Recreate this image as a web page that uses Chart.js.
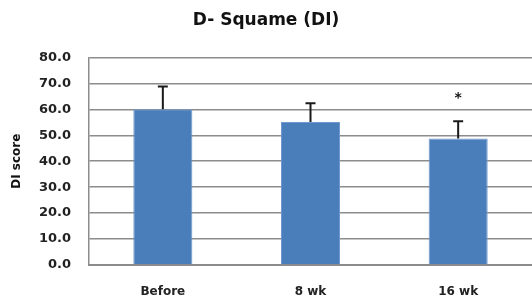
<!DOCTYPE html>
<html>
<head>
<meta charset="utf-8">
<script src="https://cdn.jsdelivr.net/npm/chart.js@4/dist/chart.umd.min.js"></script>
<style>
  html, body { margin: 0; padding: 0; background: #fff; overflow: hidden; }
  #wrap { width: 532px; height: 307px; }
</style>
</head>
<body>
<div id="wrap"><canvas id="chart"></canvas></div>
<script>
// data
const categories = ["Before", "8 wk", "16 wk"];
const means = [60.0, 55.1, 48.7];
const errors = [8.8, 7.2, 6.7];
const marks = ["", "", "*"];      // significance marks above error bars
const markAt = [null, null, 65.4];

const FONT = "'DejaVu Sans', sans-serif";

/* ---- error bars + asterisk ---- */
const errorBars = {
  id: "errorBars",
  afterDatasetsDraw(chart) {
    const { ctx, scales: { y } } = chart;
    const bars = chart.getDatasetMeta(0).data;
    ctx.save();
    ctx.strokeStyle = "#1a1a1a";
    ctx.lineWidth = 2;
    bars.forEach((bar, i) => {
      const top = y.getPixelForValue(means[i] + errors[i]);
      ctx.beginPath();
      ctx.moveTo(bar.x, bar.y);
      ctx.lineTo(bar.x, top);
      ctx.moveTo(bar.x - 5, top);
      ctx.lineTo(bar.x + 5, top);
      ctx.stroke();
      if (marks[i]) {
        ctx.fillStyle = "#111";
        ctx.font = "bold 14px " + FONT;
        ctx.textAlign = "center";
        ctx.textBaseline = "middle";
        ctx.fillText(marks[i], bar.x, y.getPixelForValue(markAt[i]) + 3);
      }
    });
    ctx.restore();
  }
};

new Chart(document.getElementById("chart"), {
  type: "bar",
  data: {
    labels: categories,
    datasets: [{
      data: means,
      backgroundColor: "#4a7ebb",
      borderColor: "#6f98cc",
      borderWidth: 1,
      barPercentage: 0.4,
      categoryPercentage: 1
    }]
  },
  options: {
    responsive: true,
    maintainAspectRatio: false,
    animation: false,
    layout: { padding: { left: 0, right: 0, top: 0, bottom: 6 } },
    plugins: {
      legend: { display: false },
      tooltip: { enabled: false },
      title: {
        display: true,
        text: "D- Squame (DI)",
        color: "#111",
        font: { family: FONT, size: 17, weight: "bold" },
        padding: { top: 10, bottom: 27 }
      }
    },
    scales: {
      x: {
        afterFit: s => { s.height = 36; },
        grid: { display: false, drawTicks: false },
        border: { color: "#8c8c8c", width: 2 },
        ticks: {
          color: "#222",
          padding: 20,
          font: { family: FONT, size: 12, weight: "bold" }
        }
      },
      y: {
        min: 0,
        max: 80,
        afterFit: s => { s.width = 89; },
        grid: { color: "#8c8c8c", lineWidth: 1.5, drawTicks: false },
        border: { color: "#8c8c8c", width: 1.5 },
        ticks: {
          stepSize: 10,
          padding: 18,
          color: "#222",
          font: { family: FONT, size: 13, weight: "bold" },
          callback: v => v.toFixed(1)
        },
        title: {
          display: true,
          text: "DI score",
          color: "#111",
          font: { family: FONT, size: 12, weight: "bold" },
          padding: { top: 10, bottom: 0 }
        }
      }
    }
  },
  plugins: [errorBars]
});
</script>
</body>
</html>
